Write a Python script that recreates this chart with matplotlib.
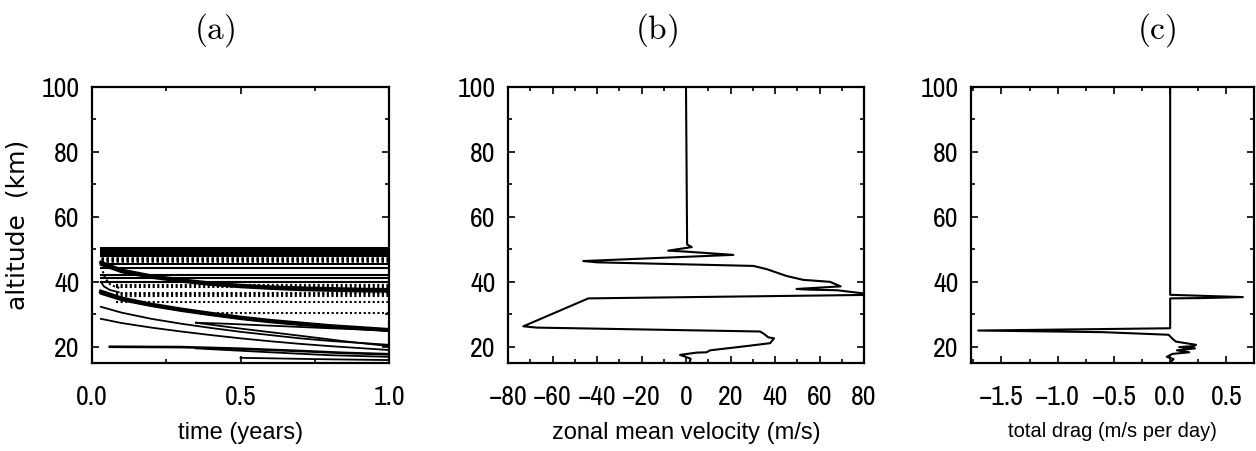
import matplotlib
matplotlib.use("Agg")
import matplotlib.pyplot as plt
from matplotlib.ticker import MultipleLocator

plt.rcParams['font.family'] = ['Liberation Sans', 'DejaVu Sans']
plt.rcParams['mathtext.fontset'] = 'cm'
TICKFONT = ['Archivo Narrow', 'Liberation Sans', 'DejaVu Sans']

# ---------------- data ----------------
# panel (a): contour lines of zonal wind (time in years, altitude km)
a_t_full = [0.03, 1.0]
a_solid_levels = [50.5, 49.9, 49.3, 48.7, 48.1, 45.4, 44.4, 42.2, 41.1, 40.0]
a_dotted_levels = [47.3, 46.9, 46.5]
a_dotted_low_t = [0.08, 1.0]
a_dotted_low_levels = [39.9, 39.1, 38.4, 36.6, 36.1, 35.6, 33.7]
a_dotted_short_t = [0.42, 1.0]
a_dotted_short_levels = [30.4]

a_curve_t = [0.03, 0.1, 0.2, 0.3, 0.4, 0.5, 0.6, 0.7, 0.8, 0.9, 1.0]
a_upper_slope = [46.0, 43.6, 41.8, 40.6, 39.6, 38.9, 38.4, 38.1, 37.9, 37.7, 37.6]
a_upper_slope2 = [45.3, 43.0, 41.3, 40.1, 39.1, 38.4, 37.9, 37.5, 37.3, 37.1, 37.0]
a_main_slope = [37.0, 34.9, 33.0, 31.5, 30.2, 29.0, 28.0, 27.2, 26.4, 25.8, 25.2]
a_main_slope2 = [36.4, 34.4, 32.6, 31.1, 29.8, 28.6, 27.6, 26.8, 26.1, 25.5, 24.9]
a_low_curve1 = [32.3, 30.5, 28.6, 27.1, 25.8, 24.6, 23.6, 22.6, 21.8, 21.2, 20.6]
a_low_curve2 = [28.6, 27.3, 25.9, 24.7, 23.6, 22.6, 21.7, 20.9, 20.2, 19.6, 19.0]

a_hair_up_t = [0.35, 0.45, 0.6, 0.8, 1.0]
a_hair_up_z = [27.4, 27.1, 26.5, 25.7, 25.0]
a_hair_lo_t = [0.35, 0.5, 0.7, 0.85, 1.0]
a_hair_lo_z = [27.4, 25.6, 23.4, 21.7, 20.2]

a_bot1_t = [0.06, 0.3, 0.5, 0.7, 0.85, 1.0]
a_bot1_z = [20.0, 19.9, 19.4, 18.7, 18.1, 17.7]
a_bot2_t = [0.35, 0.6, 0.8, 1.0]
a_bot2_z = [19.5, 18.3, 17.4, 16.9]
a_bot3_t = [0.5, 0.75, 1.0]
a_bot3_z = [16.6, 16.2, 15.9]

a_left_dot_t = [0.03, 0.035, 0.045, 0.06, 0.08, 0.1]
a_left_dot_z = [46.0, 43.5, 41.0, 39.3, 38.4, 38.0]
a_left_sol_t = [0.03, 0.04, 0.06, 0.09]
a_left_sol_z = [40.0, 38.6, 37.5, 36.8]

# panel (b): zonal mean velocity profile
b_u = [0.0, 0.5, 2.6, -8.0, 0.0, 21.3, -46.2, -40.0, 30.3, 36.3, 45.2, 52.7, 56.8, 64.7,
       69.5, 49.7, 55.0, 68.0, 85.0, -43.9, -73.1, -67.0, 33.3, 35.0, 37.0, 39.6, 37.8,
       25.8, 10.8, 9.3, 4.8, -2.7, -0.5, 2.1, 1.5]
b_z = [100.0, 51.5, 50.7, 49.6, 49.3, 48.3, 46.4, 46.0, 44.9, 43.9, 41.8, 40.6, 40.4, 40.0,
       38.6, 37.8, 37.6, 37.4, 36.0, 34.9, 26.3, 25.9, 24.7, 24.0, 22.9, 22.6, 21.1,
       20.1, 18.9, 18.3, 18.2, 17.5, 17.0, 16.3, 15.0]

# panel (c): total drag profile
c_d = [0.0, 0.0, 0.646, 0.3, 0.0, 0.0, -1.705, -0.6, -0.015, 0.02, 0.05, 0.23, 0.21,
       0.08, 0.22, 0.06, 0.17, 0.02, -0.03, 0.03, 0.0]
c_z = [100.0, 36.0, 35.3, 35.0, 34.9, 25.7, 25.0, 24.5, 23.7, 22.5, 21.6, 20.6, 20.2,
       19.9, 19.5, 18.9, 18.3, 17.8, 16.9, 16.2, 15.0]

titles = ['(a)', '(b)', '(c)']
xlabels = ['time (years)', 'zonal mean velocity (m/s)', 'total drag (m/s per day)']
ylabel = 'altitude  (km)'

# ---------------- figure ----------------
W, H = 1256, 451
fig = plt.figure(figsize=(W / 100, H / 100), dpi=100)

def box(l, t, r, b):
    return [l / W, 1 - b / H, (r - l) / W, (b - t) / H]

axa = fig.add_axes(box(92, 87, 389, 363))
axb = fig.add_axes(box(508, 87, 864, 363))
axc = fig.add_axes(box(971, 87, 1254, 363))

lw = 1.3
k = 'black'
for z in a_solid_levels:
    axa.plot(a_t_full, [z, z], color=k, lw=1.5)
for z in a_dotted_levels:
    axa.plot(a_t_full, [z, z], color=k, lw=1.8, ls=(0, (1, 1)))
for z in a_dotted_low_levels:
    axa.plot(a_dotted_low_t, [z, z], color=k, lw=1.5, ls=(0, (1, 1.2)))
for z in a_dotted_short_levels:
    axa.plot(a_dotted_short_t, [z, z], color=k, lw=1.5, ls=(0, (1, 1.2)))
for zz, w in [(a_upper_slope, 2.4), (a_upper_slope2, 1.8), (a_main_slope, 2.8),
              (a_main_slope2, 1.8), (a_low_curve1, lw), (a_low_curve2, lw)]:
    axa.plot(a_curve_t, zz, color=k, lw=w)
axa.plot(a_hair_up_t, a_hair_up_z, color=k, lw=lw)
axa.plot(a_hair_lo_t, a_hair_lo_z, color=k, lw=lw)
axa.plot(a_bot1_t, a_bot1_z, color=k, lw=1.9)
axa.plot(a_bot2_t, a_bot2_z, color=k, lw=lw)
axa.plot(a_bot3_t, a_bot3_z, color=k, lw=lw)
axa.plot(a_left_dot_t, a_left_dot_z, color=k, lw=1.5, ls=(0, (1, 1.2)))
axa.plot(a_left_sol_t, a_left_sol_z, color=k, lw=lw)
axa.set_xlim(0, 1)
axa.xaxis.set_major_locator(MultipleLocator(0.5))
axa.xaxis.set_minor_locator(MultipleLocator(0.25))
axa.xaxis.set_major_formatter(plt.FuncFormatter(lambda v, p: f'{v:.1f}'))
axa.set_ylabel(ylabel, fontsize=18, family=['DejaVu Sans'])
axa.yaxis.set_label_coords(-0.212, 0.5)

axb.plot(b_u, b_z, color=k, lw=1.5)
axb.set_xlim(-80, 80)
axb.xaxis.set_major_locator(MultipleLocator(20))
axb.xaxis.set_minor_locator(MultipleLocator(10))
axb.xaxis.set_major_formatter(plt.FuncFormatter(lambda v, p: f'{v:.0f}'.replace('-', '\u2212')))

axc.plot(c_d, c_z, color=k, lw=1.5)
axc.set_xlim(-1.77, 0.745)
axc.xaxis.set_major_locator(MultipleLocator(0.5))
axc.xaxis.set_minor_locator(MultipleLocator(0.25))
axc.xaxis.set_major_formatter(plt.FuncFormatter(lambda v, p: f'{v:.1f}'.replace('-', '\u2212')))

for ax, lab, fs in zip((axa, axb, axc), xlabels, (17, 17, 14.5)):
    ax.set_xlabel(lab, fontsize=fs)
    ax.xaxis.set_label_coords(0.5, -0.212)
    ax.set_ylim(15, 100)
    ax.yaxis.set_major_locator(MultipleLocator(20))
    ax.yaxis.set_minor_locator(MultipleLocator(10))
    ax.tick_params(which='both', direction='in', top=True, right=True, labelsize=20,
                   width=1.2)
    ax.tick_params(axis='y', pad=9)
    ax.tick_params(axis='x', pad=16)
    ax.tick_params(which='major', length=5)
    ax.tick_params(which='minor', length=3)
    for t in ax.get_xticklabels() + ax.get_yticklabels():
        t.set_family(TICKFONT)
    for s in ax.spines.values():
        s.set_linewidth(1.6)

for x, t in zip([215, 657, 1157], titles):
    fig.text(x / W, 1 - 30 / H, r'$\mathrm{' + t + '}$', fontsize=24, ha='center', va='center')

fig.savefig('out.png', dpi=100)
